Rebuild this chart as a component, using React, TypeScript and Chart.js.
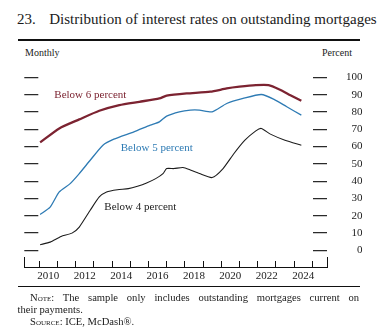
import React, { useEffect, useRef } from "react";
import { Chart, registerables } from "chart.js";

Chart.register(...registerables);

// ---- data ----
const below6Years = [2010.05, 2011.1, 2012.2, 2013.3, 2014.4, 2015.5, 2016.6, 2017.0, 2018.1, 2019.4, 2020.3, 2021.0, 2021.9, 2022.6, 2023.2, 2023.8, 2024.4];
const below6Values = [62.4, 70.5, 75.7, 80.7, 84.0, 85.9, 87.8, 89.4, 90.7, 91.7, 93.6, 94.6, 95.5, 95.5, 93.0, 89.7, 86.5];

const below5Years = [2010.05, 2010.6, 2011.1, 2011.7, 2012.2, 2012.8, 2013.5, 2014.1, 2015.2, 2016.1, 2016.6, 2017.0, 2017.7, 2018.3, 2018.8, 2019.5, 2020.3, 2021.2, 2022.2, 2022.9, 2023.6, 2024.4];
const below5Values = [20.8, 25.0, 33.8, 38.6, 44.4, 52.1, 60.8, 64.3, 68.5, 72.4, 74.3, 77.6, 80.1, 81.1, 81.1, 80.1, 84.9, 87.8, 90.1, 87.3, 83.0, 78.2];

const below4Years = [2010.05, 2010.6, 2011.2, 2011.8, 2012.2, 2012.8, 2013.3, 2013.7, 2014.3, 2014.9, 2015.4, 2015.9, 2016.4, 2016.8, 2017.0, 2017.4, 2017.9, 2018.3, 2018.8, 2019.5, 2020.1, 2020.7, 2021.3, 2021.9, 2022.2, 2022.7, 2023.5, 2024.4];
const below4Values = [3.3, 4.8, 8.1, 10.0, 13.5, 23.2, 30.9, 33.8, 35.1, 35.7, 37.1, 39.0, 41.5, 44.4, 47.3, 47.3, 47.9, 46.5, 44.4, 42.1, 47.3, 56.0, 63.7, 69.1, 70.5, 67.2, 63.7, 60.8];

const seriesNames = ["Below 6 percent", "Below 5 percent", "Below 4 percent"];
const yTickValues = [0, 10, 20, 30, 40, 50, 60, 70, 80, 90, 100];
const xTickYears = [2010, 2011, 2012, 2013, 2014, 2015, 2016, 2017, 2018, 2019, 2020, 2021, 2022, 2023, 2024, 2025];
const xLabelYears = [2010, 2012, 2014, 2016, 2018, 2020, 2022, 2024];

// ---- axis ranges / styles ----
const X_MIN = 2009.18;
const X_MAX = 2025.81;
const Y_MIN = -3.8;
const Y_MAX = 104.2;
const SERIF = "'Liberation Serif', 'Times New Roman', Times, serif";
const MAROON = "#7c2331";
const BLUE = "#2e7bb4";
const BLACK = "#1c1c1c";

const pts = (xs: number[], ys: number[]) => xs.map((x, i) => ({ x, y: ys[i] }));

export default function App() {
  const ref = useRef<HTMLCanvasElement>(null);

  useEffect(() => {
    if (!ref.current) return;
    const chart = new Chart(ref.current, {
      type: "line",
      data: {
        datasets: [
          { label: seriesNames[0], data: pts(below6Years, below6Values), borderColor: MAROON, borderWidth: 2.3, pointRadius: 0, tension: 0.2, xAxisID: "x", yAxisID: "y" },
          { label: seriesNames[1], data: pts(below5Years, below5Values), borderColor: BLUE, borderWidth: 1.3, pointRadius: 0, tension: 0.2, xAxisID: "x", yAxisID: "y" },
          { label: seriesNames[2], data: pts(below4Years, below4Values), borderColor: BLACK, borderWidth: 1.1, pointRadius: 0, tension: 0.2, xAxisID: "x", yAxisID: "y" },
        ],
      },
      options: {
        animation: false,
        responsive: false,
        maintainAspectRatio: false,
        devicePixelRatio: 1,
        layout: { padding: { left: 24.3, right: 18.5, top: 0, bottom: 1.8 } },
        plugins: { legend: { display: false }, tooltip: { enabled: false } },
        scales: {
          x: {
            type: "linear",
            position: "bottom",
            min: X_MIN,
            max: X_MAX,
            weight: 0,
            afterBuildTicks: (s: any) => {
              s.ticks = [X_MIN, ...xTickYears, X_MAX].map((v) => ({ value: v }));
            },
            ticks: { display: false },
            grid: {
              drawOnChartArea: false,
              drawTicks: true,
              tickLength: 10,
              tickColor: "#111",
              tickWidth: 1,
              tickBorderDash: (c: any) =>
                c.index === 0 || c.index === xTickYears.length + 1 ? [] : [0, 4, 6, 100],
            },
            border: { display: false },
          },
          xl: {
            type: "linear",
            position: "bottom",
            min: X_MIN,
            max: X_MAX,
            weight: 1,
            afterBuildTicks: (s: any) => {
              s.ticks = xLabelYears.map((v) => ({ value: v + 0.5 }));
            },
            ticks: {
              callback: (v: any) => String(Math.floor(Number(v))),
              autoSkip: false,
              maxRotation: 0,
              padding: 3,
              color: "#222",
              font: { family: SERIF, size: 11 },
            },
            grid: { drawOnChartArea: false, drawTicks: false },
            border: { display: true, color: "#111", width: 1 },
          },
          y: {
            type: "linear",
            position: "right",
            min: Y_MIN,
            max: Y_MAX,
            afterBuildTicks: (s: any) => {
              s.ticks = yTickValues.map((v) => ({ value: v }));
            },
            ticks: {
              crossAlign: "far",
              padding: 9.5,
              color: "#222",
              font: { family: SERIF, size: 11 },
            },
            grid: { drawOnChartArea: true, drawTicks: false, color: "#2a2a2a", lineWidth: 1.3 },
            border: {
              display: false,
              dash: (c: any) => {
                const a = c.chart.chartArea;
                const w = a ? a.right - a.left : 302.7;
                return [14, w - 28, 14, 2000];
              },
            },
          },
        },
      },
    } as any);
    return () => chart.destroy();
  }, []);

  const abs = (s: React.CSSProperties): React.CSSProperties => ({ position: "absolute", whiteSpace: "nowrap", ...s });

  return (
    <div style={{ position: "absolute", left: 0, top: 0, width: 381, height: 332, background: "#fff", fontFamily: SERIF, color: "#1a1a1a", overflow: "hidden" }}>
      <div style={abs({ left: 17, top: 11.5, fontSize: 15, lineHeight: "15px" })}>
        23.<span style={{ marginLeft: 13.5 }}>Distribution of interest rates on outstanding mortgages</span>
      </div>
      <div style={abs({ left: 17.5, top: 39, width: 342, height: 2, background: "#111" })} />
      <div style={abs({ left: 25, top: 47.5, fontSize: 10, lineHeight: "10px" })}>Monthly</div>
      <div style={abs({ right: 29, top: 47.5, fontSize: 10, lineHeight: "10px" })}>Percent</div>

      <canvas ref={ref} width={381} height={234} style={{ position: "absolute", left: 0, top: 54, width: 381, height: 234 }} />

      <div style={abs({ left: 54.3, top: 88.5, fontSize: 11, lineHeight: "11px", color: MAROON })}>{seriesNames[0]}</div>
      <div style={abs({ left: 120.7, top: 142, fontSize: 11, lineHeight: "11px", color: BLUE })}>{seriesNames[1]}</div>
      <div style={abs({ left: 104.3, top: 201, fontSize: 11, lineHeight: "11px", color: "#222" })}>{seriesNames[2]}</div>

      <div style={abs({ left: 17.5, top: 285.5, width: 342, height: 1.3, background: "#111" })} />
      <div style={abs({ left: 17.5, top: 292, width: 341.5, fontSize: 10.6, lineHeight: "12px", whiteSpace: "normal" })}>
        <div style={{ textIndent: 12.5, textAlign: "justify", textAlignLast: "justify" } as React.CSSProperties}>
          <span style={{ fontVariant: "small-caps" }}>Note</span>: The sample only includes outstanding mortgages current on
        </div>
        <div>their payments.</div>
        <div style={{ textIndent: 12.5 }}>
          <span style={{ fontVariant: "small-caps" }}>Source</span>: ICE, McDash®.
        </div>
      </div>
    </div>
  );
}
